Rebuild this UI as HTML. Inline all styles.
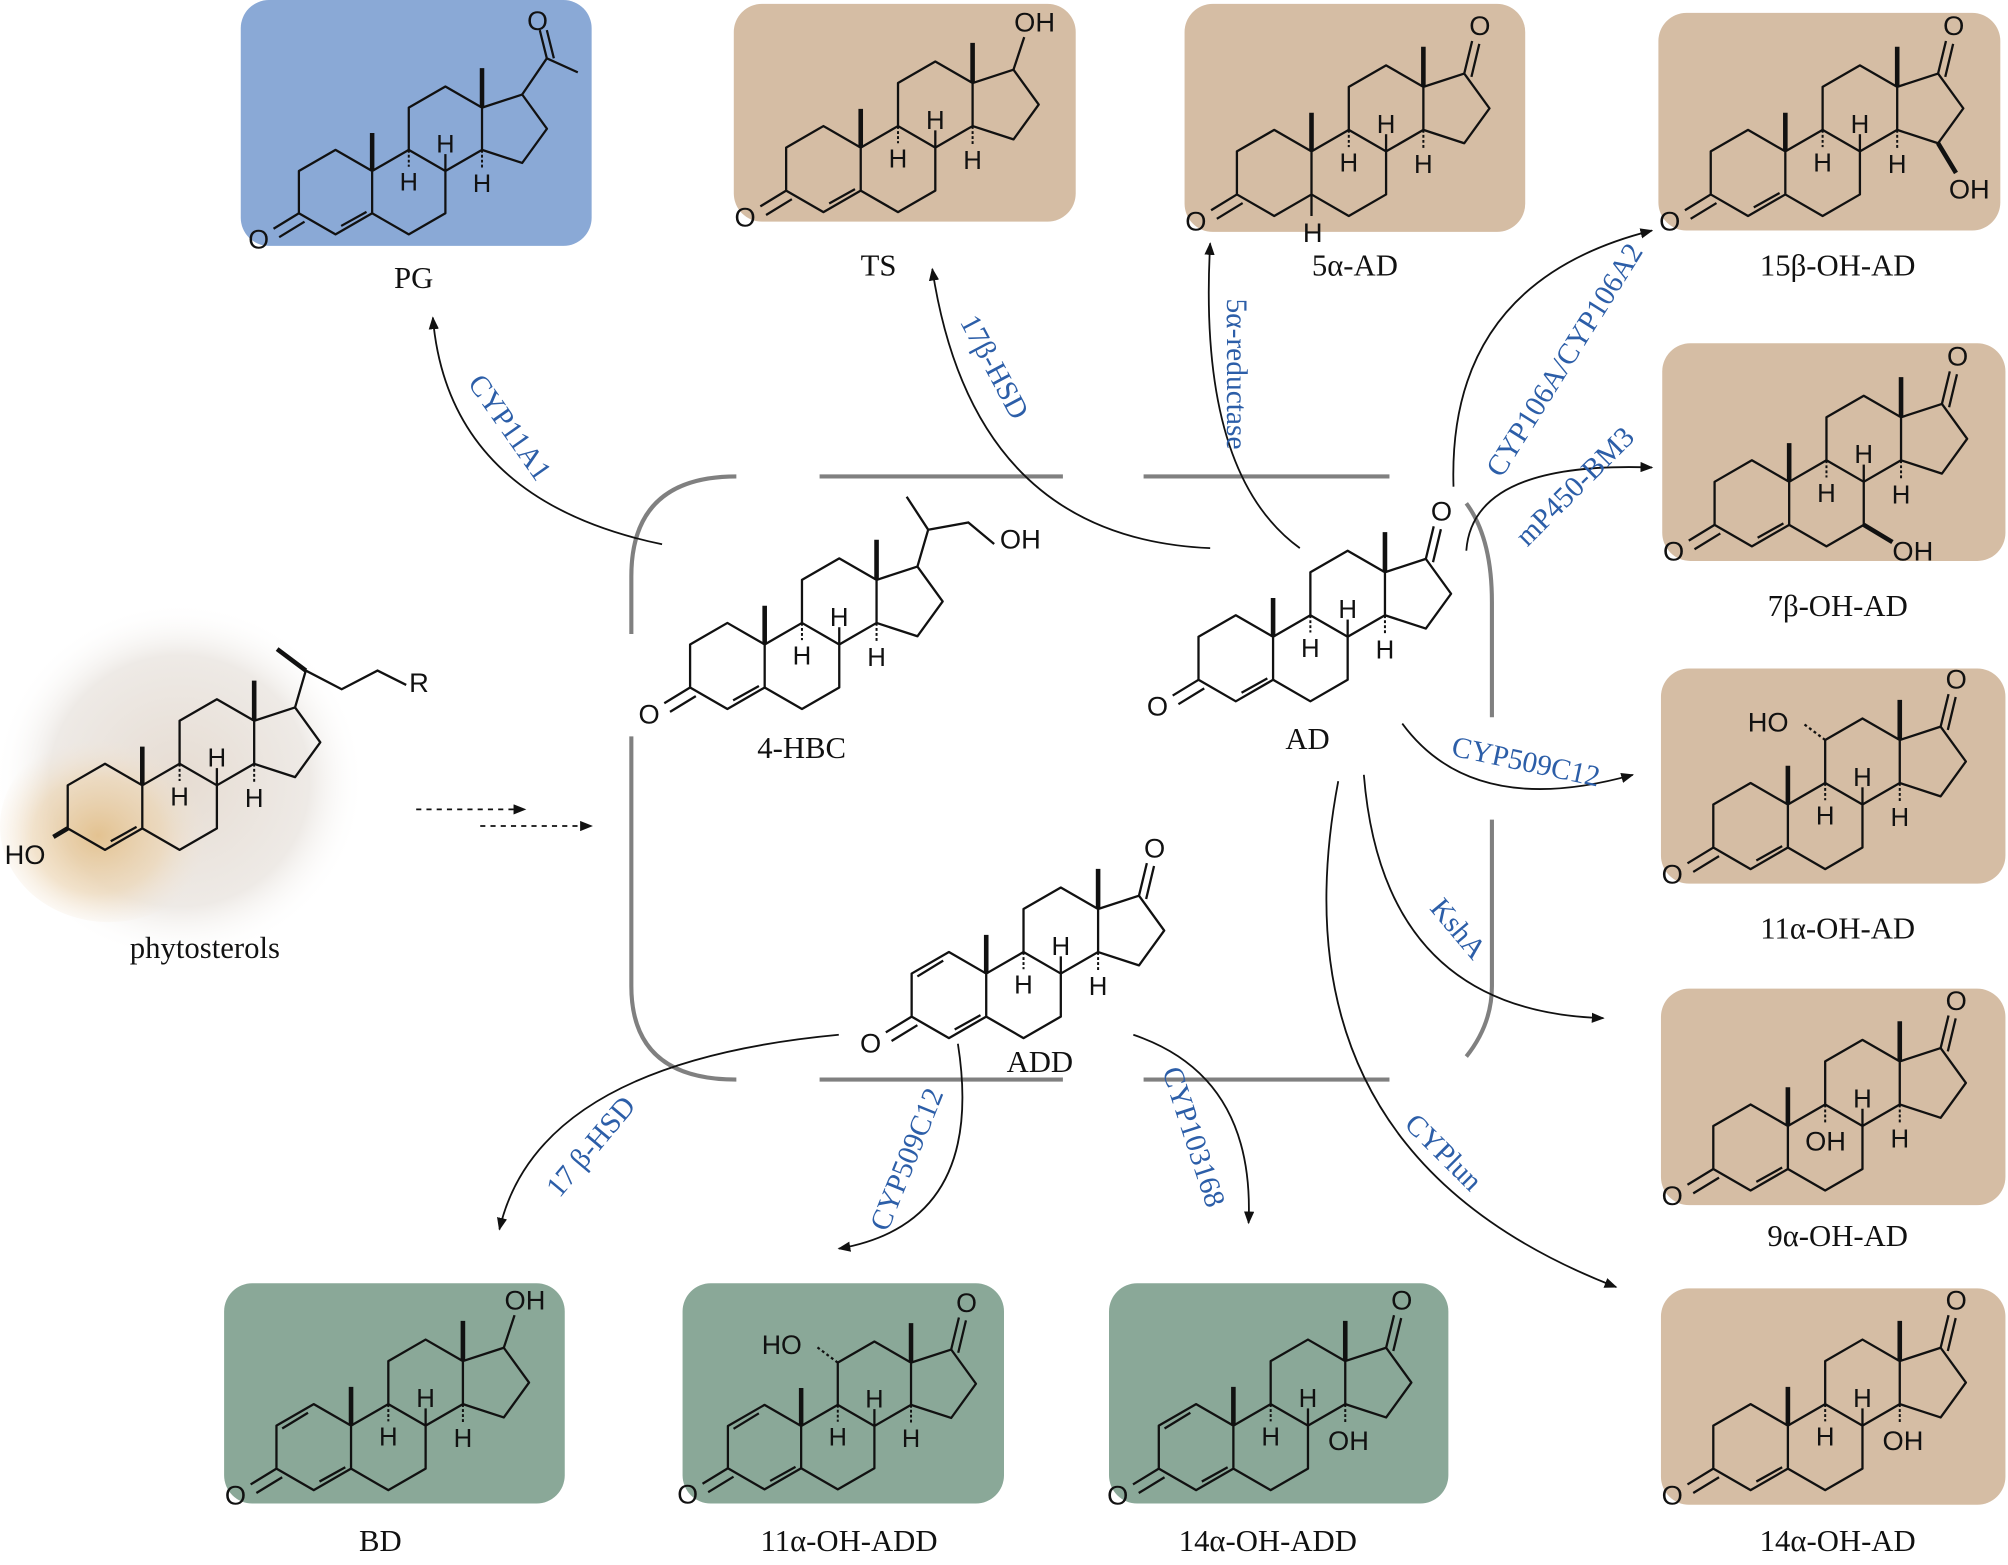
<!DOCTYPE html>
<html><head><meta charset="utf-8">
<style>
html,body{margin:0;padding:0;background:#fff;}
svg{display:block;}
.lbl{font-family:"Liberation Serif",serif;font-size:24px;fill:#111;text-anchor:middle;}
.enz{font-family:"Liberation Serif",serif;font-size:23px;fill:#2c5ea8;text-anchor:middle;}
.at{font-family:"Liberation Sans",sans-serif;font-size:19px;fill:#111;}
.hh{font-family:"Liberation Sans",sans-serif;font-size:18px;fill:#111;text-anchor:middle;}
</style></head>
<body>
<svg width="2008" height="1565" viewBox="0 0 1568 1222" xmlns="http://www.w3.org/2000/svg">
<defs>
<marker id="ah" markerWidth="10" markerHeight="8" refX="9" refY="4" orient="auto" markerUnits="userSpaceOnUse">
<path d="M0,0 L10,4 L0,8 Z" fill="#111"/></marker>
<g id="core">
<g fill="none" stroke="#111" stroke-width="1.6" stroke-linejoin="round">
<path d="M0,-30 L26,-15 L26,15 L0,30 L-26,15 L-26,-15 Z"/>
<path d="M26,-15 L52,-30 L78,-15 L78,15 L52,30 L26,15"/>
<path d="M52,-30 L52,-60 L78,-75 L104,-60 L104,-30 L78,-15"/>
<path d="M104,-60 L132.5,-69.3 L150.1,-45 L132.5,-20.7 L104,-30"/>
<path d="M26,-15 L26,-42 M104,-60 L104,-88" stroke-width="3.2"/>
</g>
</g>
<g id="h8"><path d="M78,-15 L78,-27" stroke="#111" stroke-width="1.6"/><text class="hh" x="78" y="-28">H</text></g>
<g id="h9"><path d="M52,-30 L52,-18" stroke="#111" stroke-width="1.4" stroke-dasharray="2,1.5"/><text class="hh" x="52" y="-1">H</text></g>
<g id="h14"><path d="M104,-30 L104,-17" stroke="#111" stroke-width="1.4" stroke-dasharray="2,1.5"/><text class="hh" x="104" y="0">H</text></g>
<g id="hs"><use href="#h8"/><use href="#h9"/><use href="#h14"/></g>
<g id="enone" fill="none" stroke="#111" stroke-width="1.6">
<path d="M-26,15 L-44,26 M-22,21 L-40,32 M4,24 L22,14"/>
</g>
<g id="dien" fill="none" stroke="#111" stroke-width="1.6">
<path d="M-22,-13 L-4,-24"/>
</g>
<g id="k17" fill="none" stroke="#111" stroke-width="1.6">
<path d="M132.5,-69.3 L138,-92 M137.5,-67 L143,-90"/>
</g>
<g id="oh17" fill="none" stroke="#111" stroke-width="1.6">
<path d="M132.5,-69.3 L140,-92"/>
</g>
<radialGradient id="ph" cx="50%" cy="50%" r="50%">
<stop offset="0" stop-color="#e6dcd2"/><stop offset="0.7" stop-color="#eeeae6"/><stop offset="1" stop-color="#fff" stop-opacity="0"/></radialGradient>
<radialGradient id="amb" cx="45%" cy="55%" r="50%">
<stop offset="0" stop-color="#e0b676" stop-opacity="0.75"/><stop offset="0.6" stop-color="#ecd3ae" stop-opacity="0.6"/><stop offset="1" stop-color="#f3e6d6" stop-opacity="0"/></radialGradient>
</defs>

<rect x="188" y="0" width="274" height="192" rx="22" fill="#8aa9d6"/>
<rect x="573" y="3" width="267" height="170" rx="22" fill="#d5bda4"/>
<rect x="925" y="3" width="266" height="178" rx="22" fill="#d5bda4"/>
<rect x="1295" y="10" width="267" height="170" rx="22" fill="#d5bda4"/>
<rect x="1298" y="268" width="268" height="170" rx="22" fill="#d5bda4"/>
<rect x="1297" y="522" width="269" height="168" rx="22" fill="#d5bda4"/>
<rect x="1297" y="772" width="269" height="169" rx="22" fill="#d5bda4"/>
<rect x="1297" y="1006" width="269" height="169" rx="22" fill="#d5bda4"/>
<rect x="175" y="1002" width="266" height="172" rx="22" fill="#8aa898"/>
<rect x="533" y="1002" width="251" height="172" rx="22" fill="#8aa898"/>
<rect x="866" y="1002" width="265" height="172" rx="22" fill="#8aa898"/>

<ellipse cx="140" cy="610" rx="145" ry="140" fill="url(#ph)"/>
<ellipse cx="85" cy="645" rx="85" ry="75" fill="url(#amb)"/>

<g fill="none" stroke="#808080" stroke-width="3.2">
<path d="M575,372 Q493,372 493,450 L493,495"/>
<path d="M493,575 L493,770 Q493,843 575,843"/>
<path d="M640,372 H830 M893,372 H1085 M640,843 H830 M893,843 H1085"/>
<path d="M1145,393 Q1165,420 1165,470 L1165,560"/>
<path d="M1165,640 L1165,770 Q1165,800 1145,825"/>
</g>

<g transform="translate(262,150) scale(1.1)"><use href="#core"/><use href="#hs"/><use href="#enone"/>
<path d="M132.5,-69.3 L150,-95 L172,-85 M150,-95 L145,-115 M155,-95 L150,-115" fill="none" stroke="#111" stroke-width="1.6"/>
<text class="at" x="-62" y="40">O</text><text class="at" x="136" y="-115">O</text></g>
<g transform="translate(643,132) scale(1.12)"><use href="#core"/><use href="#hs"/><use href="#enone"/><use href="#oh17"/>
<text class="at" x="-62" y="40">O</text><text class="at" x="133" y="-96">OH</text></g>
<g transform="translate(995,135) scale(1.12)"><use href="#core"/><use href="#hs"/><use href="#k17"/>
<path d="M-26,15 L-44,26 M-22,21 L-40,32 M26,15 L26,30" fill="none" stroke="#111" stroke-width="1.6"/>
<text class="at" x="-62" y="40">O</text><text class="at" x="136" y="-96">O</text><text class="at" x="20" y="48">H</text></g>
<g transform="translate(1365,135) scale(1.12)"><use href="#core"/><use href="#hs"/><use href="#enone"/><use href="#k17"/>
<path d="M132.5,-20.7 L145,0" stroke="#111" stroke-width="3.2"/>
<text class="at" x="-62" y="40">O</text><text class="at" x="136" y="-96">O</text><text class="at" x="140" y="18">OH</text></g>
<g transform="translate(1368,393) scale(1.12)"><use href="#core"/><use href="#hs"/><use href="#enone"/><use href="#k17"/>
<path d="M78,15 L98,27" stroke="#111" stroke-width="3.2"/>
<text class="at" x="-62" y="40">O</text><text class="at" x="136" y="-96">O</text><text class="at" x="98" y="40">OH</text></g>
<g transform="translate(1367,645) scale(1.12)"><use href="#core"/><use href="#hs"/><use href="#enone"/><use href="#k17"/>
<path d="M52,-60 L36,-72" stroke="#111" stroke-width="1.6" stroke-dasharray="2,2"/>
<text class="at" x="-2" y="-66">HO</text>
<text class="at" x="-62" y="40">O</text><text class="at" x="136" y="-96">O</text></g>
<g transform="translate(1367,896) scale(1.12)"><use href="#core"/><use href="#h8"/><use href="#h14"/><use href="#enone"/><use href="#k17"/>
<path d="M52,-30 L52,-16" stroke="#111" stroke-width="1.4" stroke-dasharray="2,1.5"/>
<text class="at" x="38" y="2">OH</text>
<text class="at" x="-62" y="40">O</text><text class="at" x="136" y="-96">O</text></g>
<g transform="translate(1367,1130) scale(1.12)"><use href="#core"/><use href="#h8"/><use href="#h9"/><use href="#enone"/><use href="#k17"/>
<path d="M104,-30 L104,-17" stroke="#111" stroke-width="1.4" stroke-dasharray="2,1.5"/>
<text class="at" x="92" y="2">OH</text>
<text class="at" x="-62" y="40">O</text><text class="at" x="136" y="-96">O</text></g>
<g transform="translate(245,1130) scale(1.12)"><use href="#core"/><use href="#hs"/><use href="#enone"/><use href="#dien"/><use href="#oh17"/>
<text class="at" x="-62" y="40">O</text><text class="at" x="133" y="-96">OH</text></g>
<g transform="translate(597,1130) scale(1.1)"><use href="#core"/><use href="#hs"/><use href="#enone"/><use href="#dien"/><use href="#k17"/>
<path d="M52,-60 L36,-72" stroke="#111" stroke-width="1.6" stroke-dasharray="2,2"/>
<text class="at" x="-62" y="40">O</text><text class="at" x="136" y="-96">O</text><text class="at" x="-2" y="-66">HO</text></g>
<g transform="translate(934,1130) scale(1.12)"><use href="#core"/><use href="#h8"/><use href="#h9"/><use href="#enone"/><use href="#dien"/><use href="#k17"/>
<path d="M104,-30 L104,-17" stroke="#111" stroke-width="1.4" stroke-dasharray="2,1.5"/>
<text class="at" x="92" y="2">OH</text>
<text class="at" x="-62" y="40">O</text><text class="at" x="136" y="-96">O</text></g>
<g transform="translate(568,520) scale(1.12)"><use href="#core"/><use href="#hs"/><use href="#enone"/>
<path d="M132.5,-69.3 L140,-95 L125,-118 M140,-95 L168,-100 L186,-85" fill="none" stroke="#111" stroke-width="1.6"/>
<text class="at" x="-62" y="40">O</text><text class="at" x="190" y="-82">OH</text></g>
<g transform="translate(965,514) scale(1.12)"><use href="#core"/><use href="#hs"/><use href="#enone"/><use href="#k17"/>
<text class="at" x="-62" y="40">O</text><text class="at" x="136" y="-96">O</text></g>
<g transform="translate(741,777) scale(1.12)"><use href="#core"/><use href="#hs"/><use href="#enone"/><use href="#dien"/><use href="#k17"/>
<text class="at" x="-62" y="40">O</text><text class="at" x="136" y="-96">O</text></g>
<g transform="translate(82,630) scale(1.12)"><use href="#core"/><use href="#hs"/>
<path d="M4,24 L22,14" fill="none" stroke="#111" stroke-width="1.6"/>
<path d="M-26,15 L-36,21" stroke="#111" stroke-width="3.2"/>
<path d="M132.5,-69.3 L140,-95 L165,-82 L190,-95 L210,-85" fill="none" stroke="#111" stroke-width="1.6"/>
<path d="M140,-95 L120,-110" stroke="#111" stroke-width="3.2"/>
<text class="at" x="-70" y="40">HO</text><text class="at" x="212" y="-80">R</text></g>

<text class="lbl" x="323" y="225">PG</text>
<text class="lbl" x="686" y="215">TS</text>
<text class="lbl" x="1058" y="215">5α-AD</text>
<text class="lbl" x="1435" y="215">15β-OH-AD</text>
<text class="lbl" x="1435" y="481">7β-OH-AD</text>
<text class="lbl" x="1435" y="733">11α-OH-AD</text>
<text class="lbl" x="1435" y="973">9α-OH-AD</text>
<text class="lbl" x="1435" y="1211">14α-OH-AD</text>
<text class="lbl" x="297" y="1211">BD</text>
<text class="lbl" x="663" y="1211">11α-OH-ADD</text>
<text class="lbl" x="990" y="1211">14α-OH-ADD</text>
<text class="lbl" x="626" y="592">4-HBC</text>
<text class="lbl" x="1021" y="585">AD</text>
<text class="lbl" x="812" y="837">ADD</text>
<text class="lbl" x="160" y="748">phytosterols</text>

<g fill="none" stroke="#111" stroke-width="1.4" marker-end="url(#ah)">
<path d="M517,425 Q350,390 338,248"/>
<path d="M945,428 Q760,420 728,210"/>
<path d="M1015,428 Q935,370 945,190"/>
<path d="M1135,380 Q1130,220 1290,180"/>
<path d="M1145,430 Q1150,360 1290,365"/>
<path d="M1095,565 Q1150,640 1275,605"/>
<path d="M1065,605 Q1080,790 1252,795"/>
<path d="M1045,610 Q990,900 1262,1005"/>
<path d="M655,808 Q420,830 390,960"/>
<path d="M748,815 Q770,955 655,975"/>
<path d="M885,808 Q980,840 975,955"/>
<path d="M325,632 H410" stroke-dasharray="4,4"/>
<path d="M375,645 H462" stroke-dasharray="4,4"/>
</g>

<text class="enz" transform="translate(392,338) rotate(55)">CYP11A1</text>
<text class="enz" transform="translate(770,290) rotate(62)">17β-HSD</text>
<text class="enz" transform="translate(958,292) rotate(90)">5α-reductase</text>
<text class="enz" transform="translate(1228,285) rotate(-58)">CYP106A/CYP106A2</text>
<text class="enz" transform="translate(1235,385) rotate(-45)">mP450-BM3</text>
<text class="enz" transform="translate(1190,602) rotate(12)">CYP509C12</text>
<text class="enz" transform="translate(1133,730) rotate(50)">KshA</text>
<text class="enz" transform="translate(1122,905) rotate(45)">CYPlun</text>
<text class="enz" transform="translate(467,900) rotate(-50)">17 β-HSD</text>
<text class="enz" transform="translate(715,908) rotate(-68)">CYP509C12</text>
<text class="enz" transform="translate(925,890) rotate(72)">CYP103168</text>
</svg>
</body></html>
